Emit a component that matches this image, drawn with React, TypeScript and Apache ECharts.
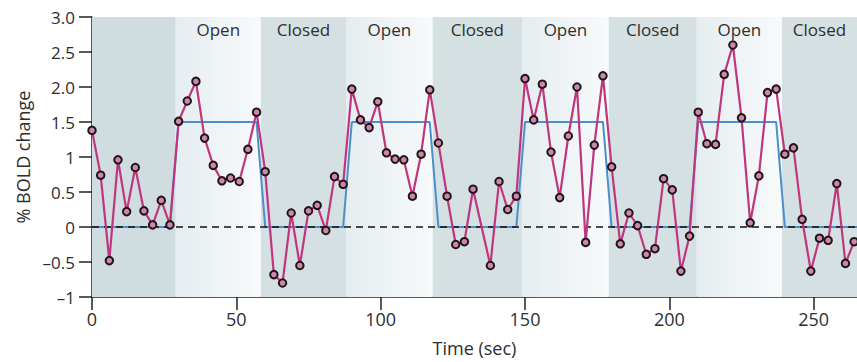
import React, { useEffect, useRef } from "react";
import * as echarts from "echarts";

// Sample times (sec) and % BOLD change values
const times = [
  0, 3, 6, 9, 12, 15, 18, 21, 24, 27,
  30, 33, 36, 39, 42, 45, 48, 51, 54, 57,
  60, 63, 66, 69, 72, 75, 78, 81, 84, 87,
  90, 93, 96, 99, 102, 105, 108, 111, 114, 117,
  120, 123, 126, 129, 132, 138, 141, 144, 147,
  150, 153, 156, 159, 162, 165, 168, 171, 174, 177,
  180, 183, 186, 189, 192, 195, 198, 201, 204, 207,
  210, 213, 216, 219, 222, 225, 228, 231, 234, 237,
  240, 243, 246, 249, 252, 255, 258, 261, 264,
];
const bold = [
  1.38, 0.74, -0.48, 0.96, 0.22, 0.85, 0.23, 0.03, 0.38, 0.03,
  1.51, 1.8, 2.08, 1.27, 0.88, 0.66, 0.7, 0.65, 1.11, 1.64,
  0.79, -0.68, -0.8, 0.2, -0.55, 0.23, 0.31, -0.05, 0.72, 0.61,
  1.97, 1.53, 1.42, 1.79, 1.06, 0.97, 0.96, 0.44, 1.04, 1.96,
  1.2, 0.44, -0.25, -0.21, 0.54, -0.55, 0.65, 0.25, 0.44,
  2.12, 1.53, 2.04, 1.07, 0.42, 1.3, 2.0, -0.22, 1.17, 2.16,
  0.86, -0.24, 0.2, 0.02, -0.39, -0.31, 0.69, 0.53, -0.63, -0.13,
  1.64, 1.19, 1.18, 2.18, 2.6, 1.56, 0.06, 0.73, 1.92, 1.97,
  1.04, 1.13, 0.11, -0.63, -0.16, -0.19, 0.62, -0.52, -0.21,
];

// Predicted (boxcar) response
const modelTimes = [0, 27, 30, 57, 60, 87, 90, 117, 120, 147, 150, 177, 180, 207, 210, 237, 240, 265];
const modelValues = [0, 0, 1.5, 1.5, 0, 0, 1.5, 1.5, 0, 0, 1.5, 1.5, 0, 0, 1.5, 1.5, 0, 0];

// Condition bands
const bandEdges = [0, 29, 58.5, 88, 118, 149, 179, 209.5, 239, 265];
const bandLabels = ["", "Open", "Closed", "Open", "Closed", "Open", "Closed", "Open", "Closed"];

const yTickLabels: Record<string, string> = {
  "3": "3.0", "2.5": "2.5", "2": "2.0", "1.5": "1.5", "1": "1",
  "0.5": "0.5", "0": "0", "-0.5": "\u20130.5", "-1": "\u20131",
};

const FONT = "'Open Sans', 'DejaVu Sans', sans-serif";
const TEXT = "#2e2e2e";

export default function App() {
  const ref = useRef<HTMLDivElement>(null);
  useEffect(() => {
    if (!ref.current) return;
    const chart = echarts.init(ref.current, undefined, { renderer: "svg" });

    const openGrad = {
      type: "linear", x: 0, y: 0, x2: 1, y2: 0,
      colorStops: [
        { offset: 0, color: "#e5edf0" },
        { offset: 1, color: "#f8fafb" },
      ],
    };
    const bands = bandLabels.map((lab, i) => [
      {
        xAxis: bandEdges[i],
        name: lab,
        itemStyle: { color: lab === "Open" ? openGrad : i === 0 ? "#cfdce0" : "#d5e0e3" },
      },
      { xAxis: bandEdges[i + 1] },
    ]);

    chart.setOption({
      animation: false,
      textStyle: { fontFamily: FONT },
      grid: { left: 92, right: 0, top: 17, bottom: 65, containLabel: false },
      xAxis: {
        type: "value",
        min: 0,
        max: 265,
        interval: 50,
        name: "Time (sec)",
        nameLocation: "middle",
        nameGap: 42,
        nameTextStyle: { fontSize: 18, color: TEXT, fontFamily: FONT },
        axisLine: { onZero: false, lineStyle: { color: "#222", width: 1.5 } },
        axisTick: { show: true, length: 13, lineStyle: { color: "#222", width: 1.5 } },
        axisLabel: { fontSize: 18, color: TEXT, margin: 13, fontFamily: FONT, showMaxLabel: false },
        splitLine: { show: false },
      },
      yAxis: {
        type: "value",
        min: -1,
        max: 3,
        interval: 0.5,
        name: "% BOLD change",
        nameLocation: "middle",
        nameGap: 57,
        nameTextStyle: { fontSize: 18, color: TEXT, fontFamily: FONT },
        axisLine: { show: true, lineStyle: { color: "#222", width: 1.5 } },
        axisTick: { show: true, length: 13, lineStyle: { color: "#222", width: 1.5 } },
        axisLabel: {
          fontSize: 17,
          color: TEXT,
          margin: 17,
          fontFamily: FONT,
          formatter: (v: number) => yTickLabels[String(v)] ?? String(v),
        },
        splitLine: { show: false },
      },
      series: [
        {
          type: "line",
          data: [],
          silent: true,
          z: 1,
          markArea: {
            silent: true,
            label: {
              show: true,
              position: "insideTop",
              distance: 4,
              fontSize: 17,
              color: TEXT,
              fontFamily: FONT,
            },
            data: bands,
          },
        },
        {
          type: "line",
          data: modelTimes.map((t, i) => [t, modelValues[i]]),
          symbol: "none",
          z: 3,
          lineStyle: { color: "#4a8fcb", width: 2 },
        },
        {
          type: "line",
          data: [[0, 0], [265, 0]],
          symbol: "none",
          z: 4,
          lineStyle: { color: "#111", width: 1.4, type: [7, 5] },
        },
        {
          type: "line",
          data: times.map((t, i) => [t, bold[i]]),
          symbol: "circle",
          symbolSize: 7.5,
          z: 5,
          lineStyle: { color: "#c0367e", width: 2.2 },
          itemStyle: { color: "#c98aaa", borderColor: "#241219", borderWidth: 2 },
        },
      ],
    });
    return () => chart.dispose();
  }, []);
  return (
    <div
      ref={ref}
      style={{ position: "absolute", left: 0, top: 0, width: 857, height: 362, background: "#fff" }}
    />
  );
}
